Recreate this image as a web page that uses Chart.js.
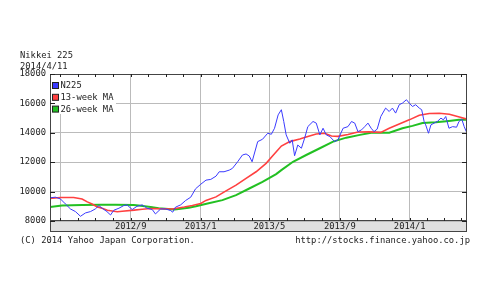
<!DOCTYPE html>
<html>
<head>
<meta charset="utf-8">
<script src="https://cdn.jsdelivr.net/npm/chart.js@4.4.1/dist/chart.umd.min.js"></script>
<style>
html, body { margin: 0; padding: 0; background: #fff; }
#wrap { width: 490px; height: 300px; }
</style>
</head>
<body>
<div id="wrap"><canvas id="chart" width="490" height="300"></canvas></div>
<script>
// x = weeks counted from 2012/4/13 (first day of the chart)
const startDay = Date.UTC(2012, 3, 13);
const lastWeek = 104; // 2014/4/11

const titleLines = ['Nikkei 225', '2014/4/11'];
const footerLeft = '(C) 2014 Yahoo Japan Corporation.';
const footerRight = 'http://stocks.finance.yahoo.co.jp';

const gridMonths = ['2012/5', '2012/9', '2013/1', '2013/5', '2013/9', '2014/1'];
const gridLabels = ['', '2012/9', '2013/1', '2013/5', '2013/9', '2014/1'];
const yTicks = [8000, 10000, 12000, 14000, 16000, 18000];

const seriesNames = ['N225', '13-week MA', '26-week MA'];
const seriesColors = ['#3a3aff', '#ff4040', '#22c022'];

// N225 close
const n225Weeks = [0, 1.35, 2.6, 3.85, 5.1, 6.35, 7.6, 8.85, 10.1, 11.3, 12.2, 13.0, 14.2, 15.1, 15.9, 17.2,
  18.4, 19.2, 20.5, 21.7, 23.0, 24.2, 25.5, 26.3, 27.6, 28.8, 30.1, 30.6, 31.3, 32.6, 33.8, 35.1, 36.3, 37.6,
  38.9, 40.1, 41.4, 42.2, 43.4, 44.7, 45.5, 46.8, 48.0, 48.9, 49.7, 50.4, 51.8, 53.0, 54.3, 55.2, 56.0, 56.9,
  57.7, 58.3, 58.9, 59.8, 60.4, 61.0, 61.8, 62.7, 63.5, 64.3, 65.6, 66.4, 67.3, 68.1, 68.9, 69.8, 71.0, 71.8,
  73.1, 74.3, 75.2, 76.0, 76.8, 77.7, 78.5, 79.3, 80.1, 80.8, 81.6, 82.5, 83.7, 84.6, 85.4, 86.2, 87.1, 87.9,
  88.9, 89.6, 90.4, 91.2, 92.1, 92.7, 93.3, 93.7, 94.4, 95.0, 95.8, 96.6, 97.5, 98.1, 98.7, 99.5, 100.4, 101.4,
  102.0, 102.7, 103.3, 104];
const n225Values = [9580, 9620, 9500, 9160, 8820, 8640, 8320, 8550, 8640, 8820, 9050, 8870, 8640, 8410, 8730, 8870,
  9050, 9100, 8780, 9000, 9100, 8870, 8780, 8480, 8820, 8820, 8710, 8600, 8940, 9100, 9390, 9620, 10190, 10500,
  10780, 10830, 11050, 11350, 11350, 11460, 11580, 12030, 12490, 12560, 12420, 12030, 13400, 13560, 13970, 13900, 14310, 15220,
  15570, 14770, 13860, 13290, 13520, 12440, 13170, 12950, 13630, 14420, 14770, 14660, 13860, 14310, 13860, 13740, 13400, 13520,
  14310, 14420, 14770, 14660, 14080, 14200, 14420, 14660, 14310, 14080, 14250, 15110, 15680, 15450, 15680, 15340, 15910, 16020,
  16250, 16020, 15790, 15910, 15680, 15570, 14770, 14540, 13970, 14540, 14660, 14770, 15000, 14880, 15110, 14310, 14420, 14380,
  14770, 14930, 14420, 13970];

// 13-week moving average
const ma13Weeks = [0, 2.7, 5.9, 8.0, 9.3, 10.5, 11.8, 13.0, 14.3, 15.5, 16.8, 18.0, 21.0, 23.0, 25.1, 28.0, 30.5,
  33.5, 35.5, 37.6, 38.9, 41.4, 43.9, 46.4, 48.9, 51.4, 53.9, 55.6, 57.7, 59.8, 62.3, 64.3, 66.4, 68.5, 70.2,
  71.8, 74.3, 76.8, 79.6, 82.5, 84.6, 87.1, 89.6, 92.1, 94.6, 97.1, 99.6, 102.1, 104];
const ma13Values = [9540, 9600, 9600, 9500, 9300, 9160, 8960, 8870, 8730, 8680, 8630, 8660, 8740, 8800, 8850, 8830, 8820,
  8950, 9050, 9190, 9400, 9640, 10050, 10440, 10900, 11350, 11920, 12450, 13100, 13400, 13580, 13750, 13920, 13970, 13780,
  13760, 13880, 14050, 14060, 14030, 14310, 14600, 14880, 15200, 15310, 15330, 15260, 15070, 14930];

// 26-week moving average
const ma26Weeks = [0, 3.0, 8.0, 12.7, 16.3, 20.9, 22.1, 25.1, 27.1, 31.1, 34.6, 36.4, 39.3, 43.0, 46.4, 49.7,
  53.0, 56.4, 57.7, 60.6, 63.9, 67.3, 70.6, 73.9, 77.3, 80.1, 84.6, 87.9, 90.4, 92.9, 96.2, 99.5, 102.0, 104];
const ma26Values = [8950, 9050, 9090, 9110, 9110, 9090, 9050, 8960, 8870, 8780, 8900, 9000, 9190, 9420, 9760, 10210,
  10660, 11190, 11460, 12030, 12490, 12950, 13400, 13670, 13860, 14000, 14000, 14310, 14470, 14660, 14720, 14810, 14880, 14880];

const FONT = '"DejaVu Sans Mono", monospace';
const FONT_SIZE = 8.8;

function weeksOf(ym) {
  const p = ym.split('/');
  return (Date.UTC(+p[0], +p[1] - 1, 1) - startDay) / (7 * 864e5);
}

// every month start inside the range, for the small ticks on top and bottom
function monthWeeks() {
  const out = [];
  for (let y = 2012; y <= 2014; y++) {
    for (let m = 1; m <= 12; m++) {
      const w = weeksOf(y + '/' + m);
      if (w > 0 && w < lastWeek) out.push(w);
    }
  }
  return out;
}

function toPoints(xs, ys) {
  return xs.map((x, i) => ({ x: x, y: ys[i] }));
}

const framePlugin = {
  id: 'frame',
  beforeDraw(chart) {
    const { ctx, chartArea: a } = chart;
    ctx.save();
    ctx.fillStyle = '#e0e0e0';
    ctx.fillRect(a.left, a.bottom, a.right - a.left, 11);
    ctx.restore();
  },
  afterDraw(chart) {
    const { ctx, chartArea: a, scales } = chart;
    ctx.save();

    // legend box
    ctx.fillStyle = '#fff';
    ctx.fillRect(a.left + 1, a.top + 1, 65, 39);
    ctx.font = FONT_SIZE + 'px ' + FONT;
    ctx.textBaseline = 'middle';
    seriesNames.forEach((name, i) => {
      const cy = a.top + 11 + i * 11.8;
      ctx.fillStyle = seriesColors[i];
      ctx.fillRect(a.left + 2.5, cy - 2.5, 6, 6);
      ctx.strokeStyle = '#222';
      ctx.lineWidth = 1;
      ctx.strokeRect(a.left + 2.5, cy - 2.5, 6, 6);
      ctx.fillStyle = '#222';
      ctx.textAlign = 'left';
      ctx.fillText(name, a.left + 10.5, cy + 1);
    });

    // frame and label band
    ctx.strokeStyle = '#444';
    ctx.lineWidth = 1;
    ctx.strokeRect(a.left + 0.5, a.top + 0.5, a.right - a.left - 1, a.bottom - a.top - 1);
    ctx.strokeRect(a.left + 0.5, a.bottom - 0.5, a.right - a.left - 1, 11);

    // inside ticks
    ctx.strokeStyle = '#222';
    ctx.beginPath();
    yTicks.forEach(v => {
      const py = Math.round(scales.y.getPixelForValue(v)) + 0.5;
      ctx.moveTo(a.left, py); ctx.lineTo(a.left + 5, py);
      ctx.moveTo(a.right - 5, py); ctx.lineTo(a.right, py);
    });
    monthWeeks().forEach(w => {
      const px = Math.round(scales.x.getPixelForValue(w)) + 0.5;
      ctx.moveTo(px, a.top); ctx.lineTo(px, a.top + 3);
      ctx.moveTo(px, a.bottom); ctx.lineTo(px, a.bottom - 3);
    });
    ctx.stroke();

    // titles and footer
    ctx.fillStyle = '#222';
    ctx.textAlign = 'left';
    ctx.fillText(titleLines[0], 20, 55.5);
    ctx.fillText(titleLines[1], 20, 66.5);
    ctx.fillText(footerLeft, 20, 240.5);
    ctx.textAlign = 'right';
    ctx.fillText(footerRight, 470, 240.5);
    ctx.restore();
  }
};

new Chart(document.getElementById('chart'), {
  type: 'line',
  data: {
    datasets: [
      { label: seriesNames[0], data: toPoints(n225Weeks, n225Values), borderColor: seriesColors[0], borderWidth: 1 },
      { label: seriesNames[1], data: toPoints(ma13Weeks, ma13Values), borderColor: seriesColors[1], borderWidth: 1.6 },
      { label: seriesNames[2], data: toPoints(ma26Weeks, ma26Values), borderColor: seriesColors[2], borderWidth: 2 }
    ]
  },
  options: {
    responsive: false,
    animation: false,
    devicePixelRatio: 1,
    events: [],
    layout: { padding: { left: 0, top: 74, right: 23, bottom: 68 } },
    elements: { point: { radius: 0 }, line: { tension: 0, fill: false } },
    plugins: { legend: { display: false }, tooltip: { enabled: false } },
    scales: {
      x: {
        type: 'linear',
        min: 0,
        max: lastWeek,
        afterFit(scale) { scale.height = 11; },
        afterBuildTicks(scale) { scale.ticks = gridMonths.map(m => ({ value: weeksOf(m) })); },
        grid: { color: '#bbbbbb', drawTicks: false },
        border: { display: false },
        ticks: {
          autoSkip: false,
          maxRotation: 0,
          minRotation: 0,
          padding: 0,
          color: '#222',
          font: { family: FONT, size: FONT_SIZE, lineHeight: 1.2 },
          callback: (value, index) => gridLabels[index]
        }
      },
      y: {
        min: yTicks[0],
        max: yTicks[yTicks.length - 1],
        afterFit(scale) { scale.width = 50; },
        afterBuildTicks(scale) { scale.ticks = yTicks.map(v => ({ value: v })); },
        grid: { color: '#bbbbbb', drawTicks: false },
        border: { display: false },
        ticks: {
          padding: 4,
          color: '#222',
          font: { family: FONT, size: FONT_SIZE },
          callback: value => String(value)
        }
      }
    }
  },
  plugins: [framePlugin]
});
</script>
</body>
</html>
